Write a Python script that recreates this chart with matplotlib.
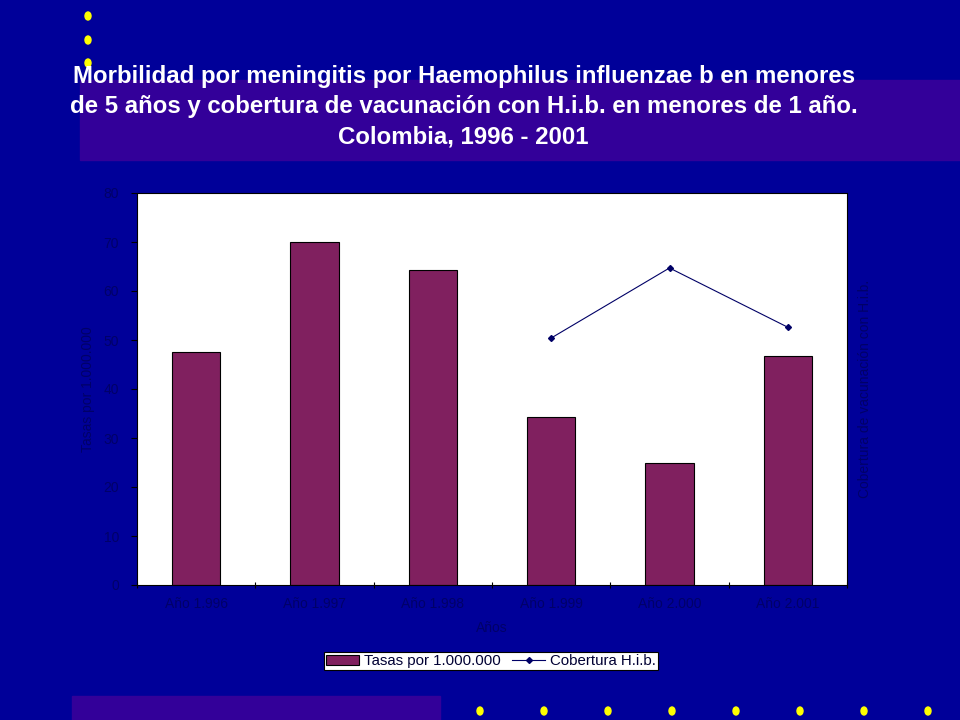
import numpy as np
import matplotlib.pyplot as plt
from matplotlib.patches import Rectangle, Ellipse

# Dados
anos = ['Año 1.996', 'Año 1.997', 'Año 1.998', 'Año 1.999', 'Año 2.000', 'Año 2.001']
tasas = [47.5, 70.0, 64.2, 34.3, 24.9, 46.7]
cob_idx = [3, 4, 5]
cobertura = [50.4, 64.7, 52.6]
yticks = [0, 10, 20, 30, 40, 50, 60, 70, 80]

plt.rcParams['font.family'] = ['Liberation Sans', 'DejaVu Sans']

fundo = '#000099'
roxo = '#330099'
escuro = '#000068'

fig = plt.figure(figsize=(9.6, 7.2), dpi=100)
fig.patch.set_facecolor(fundo)

# Faixas decorativas
fig.patches.append(Rectangle((80/960, 1 - 160/720), 880/960, 80/720,
                             transform=fig.transFigure, color=roxo, zorder=0))
fig.patches.append(Rectangle((72/960, 0), 368/960, 24/720,
                             transform=fig.transFigure, color=roxo, zorder=0))

# Pontos amarelos
for y in [16, 40, 63]:
    fig.patches.append(Ellipse((88/960, 1 - y/720), 6/960, 8/720,
                               transform=fig.transFigure, color='#ffff00', zorder=1))
for x in [480, 544, 608, 672, 736, 800, 864, 928]:
    fig.patches.append(Ellipse((x/960, 1 - 711/720), 6/960, 8/720,
                               transform=fig.transFigure, color='#ffff00', zorder=1))

titulo = fig.text(0.483, 1 - 107/720,
                  'Morbilidad por meningitis por Haemophilus influenzae b en menores\n'
                  'de 5 años y cobertura de vacunación con H.i.b. en menores de 1 año.\n'
                  'Colombia, 1996 - 2001',
                  ha='center', va='center', color='white', fontsize=17.3,
                  fontweight='bold', linespacing=1.4, zorder=2)

ax = fig.add_axes([137/960, 1 - 585/720, 710/960, 392/720])
ax.set_facecolor('white')
x = np.arange(len(anos))
barras = ax.bar(x, tasas, width=0.41, color='#80205f', edgecolor='black',
                linewidth=0.8, label='Tasas por 1.000.000', zorder=2)
ax.set_xlim(-0.5, len(anos) - 0.5)
ax.set_ylim(0, 80)
ax.set_yticks(yticks)
ax.set_xticks(x)
ax.set_xticklabels(anos)
ax.set_xticks(np.arange(-0.5, len(anos)), minor=True)
ax.tick_params(axis='x', which='major', length=0, pad=9, labelsize=10, labelcolor=escuro)
ax.tick_params(axis='x', which='minor', length=4, direction='inout', color='black', width=0.8)
ax.tick_params(axis='y', length=4, direction='out', color='black', width=0.8,
               labelsize=10, labelcolor=escuro, pad=9)
for s in ax.spines.values():
    s.set_color('black')
    s.set_linewidth(0.8)
ax.set_xlabel('Años', color=escuro, fontsize=10, labelpad=7)
ax.set_ylabel('Tasas por 1.000.000', color=escuro, fontsize=10, labelpad=6)

ax2 = ax.twinx()
linha, = ax2.plot(cob_idx, cobertura, color='#000066', linewidth=0.8, marker='D',
                  markersize=3, label='Cobertura H.i.b.')
ax2.set_ylim(0, 80)
ax2.set_yticks([])
ax2.set_ylabel('Cobertura de vacunación con H.i.b.', color=escuro, fontsize=10, labelpad=8)
for s in ax2.spines.values():
    s.set_visible(False)

leg = fig.legend([barras, linha], ['Tasas por 1.000.000', 'Cobertura H.i.b.'],
                 loc='center', bbox_to_anchor=(491/960, 1 - 661/720), ncol=2,
                 frameon=True, fancybox=False, fontsize=10.8, handlelength=2.2,
                 handleheight=0.7, columnspacing=0.8, handletextpad=0.3,
                 borderpad=0.15, borderaxespad=0, framealpha=1)
leg.get_frame().set_edgecolor('black')
leg.get_frame().set_linewidth(0.8)
leg.get_frame().set_facecolor('white')
for t in leg.get_texts():
    t.set_color('#000033')

fig.savefig('out.png', dpi=100, facecolor=fundo)
